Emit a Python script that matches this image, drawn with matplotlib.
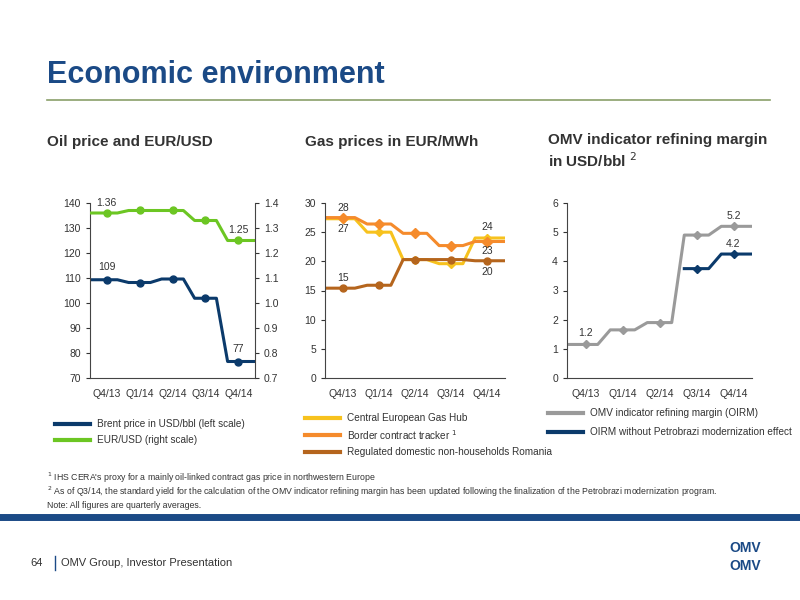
import numpy as np
import matplotlib.pyplot as plt
from matplotlib.lines import Line2D

quarters = ["Q4/13", "Q1/14", "Q2/14", "Q3/14", "Q4/14"]
brent = [109.3, 108.2, 109.6, 101.9, 76.6]
eurusd = [1.36, 1.37, 1.37, 1.33, 1.25]
cegh = [27.3, 25.0, 20.3, 19.6, 24.0]
border = [27.5, 26.4, 24.8, 22.7, 23.4]
regulated = [15.4, 15.9, 20.3, 20.3, 20.1]
oirm = [1.15, 1.65, 1.9, 4.9, 5.2]
oirm_wo = [np.nan, np.nan, np.nan, 3.75, 4.25]

NAVY = "#0b3a6b"
GREEN = "#6cc623"
YEL = "#f7c21e"
ORG = "#f58b2c"
BRN = "#b5651d"
GREY = "#9a9a9a"
TXT = "#333333"

plt.rcParams["font.family"] = ["Liberation Sans", "DejaVu Sans"]


def stepline(ax, vals, color, marker="o", ms=5):
    xs, ys = [], []
    for i, v in enumerate(vals):
        if np.isnan(v):
            continue
        xs += [i - 0.33, i + 0.33]
        ys += [v, v]
    if xs and xs[0] < -0.3:
        xs[0] = -0.5
    if xs[-1] > 4.3:
        xs[-1] = 4.5
    ax.plot(xs, ys, color=color, lw=2.2, solid_joinstyle="round")
    idx = [i for i, v in enumerate(vals) if not np.isnan(v)]
    ax.plot(idx, [vals[i] for i in idx], ls="none", marker=marker, ms=ms, color=color)


def style(ax):
    ax.set_xlim(-0.5, 4.5)
    ax.set_xticks(range(5))
    ax.set_xticklabels(quarters)
    ax.tick_params(labelsize=7.5, colors=TXT, length=3)
    for s in ["top", "right"]:
        ax.spines[s].set_visible(False)
    ax.spines["left"].set_color("#444")
    ax.spines["bottom"].set_color("#444")
    ax.tick_params(axis="x", length=0, pad=8)


fig = plt.figure(figsize=(8, 6), dpi=100)
fig.patch.set_facecolor("white")

def F(x, y):
    return x / 800, 1 - y / 600

fig.text(*F(47, 75), "Economic environment", fontsize=22, fontweight="bold", color="#1b4a86", va="center")
fig.add_artist(Line2D([47 / 800, 770 / 800], [1 - 100 / 600] * 2, color="#8aa06a", lw=1.2))
fig.add_artist(Line2D([0, 1], [1 - 517 / 600] * 2, color="#1b4a86", lw=5))

fig.text(*F(47, 142), "Oil price and EUR/USD", fontsize=11, fontweight="bold", color=TXT, va="center")
fig.text(*F(305, 142), "Gas prices in EUR/MWh", fontsize=11, fontweight="bold", color=TXT, va="center")
fig.text(*F(548, 133), "OMV indicator refining margin\nin USD/bbl $^{2}$", fontsize=11,
         fontweight="bold", color=TXT, va="top", linespacing=1.3)

# Chart 1
ax1 = fig.add_axes([90 / 800, 1 - 378 / 600, 165 / 800, 175 / 600])
stepline(ax1, brent, NAVY)
ax1.set_ylim(70, 140)
ax1.set_yticks(range(70, 141, 10))
style(ax1)
ax1b = ax1.twinx()
stepline(ax1b, eurusd, GREEN)
ax1b.set_ylim(0.7, 1.4)
ax1b.set_yticks(np.arange(0.7, 1.41, 0.1))
ax1b.yaxis.set_major_formatter(plt.FormatStrFormatter("%.1f"))
ax1b.tick_params(labelsize=7.5, colors=TXT, length=3)
for s in ["top", "left", "bottom"]:
    ax1b.spines[s].set_visible(False)
ax1b.spines["right"].set_color("#444")
ax1.text(0, brent[0] + 3, "109", fontsize=7.5, color=TXT, ha="center", va="bottom")
ax1.text(4, brent[4] + 3, "77", fontsize=7.5, color=TXT, ha="center", va="bottom")
ax1b.text(0, eurusd[0] + 0.02, "1.36", fontsize=7.5, color=TXT, ha="center", va="bottom")
ax1b.text(4, eurusd[4] + 0.02, "1.25", fontsize=7.5, color=TXT, ha="center", va="bottom")

# Chart 2
ax2 = fig.add_axes([325 / 800, 1 - 378 / 600, 180 / 800, 175 / 600])
stepline(ax2, cegh, YEL, marker="D", ms=4.5)
stepline(ax2, border, ORG, marker="D", ms=5)
stepline(ax2, regulated, BRN)
ax2.set_ylim(0, 30)
ax2.set_yticks(range(0, 31, 5))
style(ax2)
for x, y, t in [(0, 29.2, "28"), (0, 25.5, "27"), (0, 17.2, "15"),
                (4, 25.8, "24"), (4, 21.7, "23"), (4, 18.2, "20")]:
    ax2.text(x, y, t, fontsize=7.5, color=TXT, ha="center", va="center")

# Chart 3
ax3 = fig.add_axes([567 / 800, 1 - 378 / 600, 185 / 800, 175 / 600])
stepline(ax3, oirm, GREY, marker="D", ms=4.5)
stepline(ax3, oirm_wo, NAVY, marker="D", ms=4.5)
ax3.set_ylim(0, 6)
ax3.set_yticks(range(0, 7))
style(ax3)
for x, y, t in [(0, 1.55, "1.2"), (4, 5.55, "5.2"), (4, 4.6, "4.2")]:
    ax3.text(x, y, t, fontsize=7.5, color=TXT, ha="center", va="center")

# Legends
def leg(x, y, color, label):
    fig.add_artist(Line2D([x / 800, (x + 35) / 800], [1 - y / 600] * 2, color=color, lw=3))
    fig.text((x + 42) / 800, 1 - y / 600, label, fontsize=7.2, color=TXT, va="center")

leg(55, 424, NAVY, "Brent price in USD/bbl (left scale)")
leg(55, 440, GREEN, "EUR/USD (right scale)")
leg(305, 418, YEL, "Central European Gas Hub")
leg(305, 435, ORG, "Border contract tracker $^{1}$")
leg(305, 452, BRN, "Regulated domestic non-households Romania")
leg(548, 413, GREY, "OMV indicator refining margin (OIRM)")
leg(548, 432, NAVY, "OIRM without Petrobrazi modernization effect")

fn = ["$^{1}$ IHS CERA's proxy for a mainly oil-linked contract gas price in northwestern Europe",
      "$^{2}$ As of Q3/14, the standard yield for the calculation of the OMV indicator refining margin has been updated following the finalization of the Petrobrazi modernization program.",
      "Note: All figures are quarterly averages."]
for i, t in enumerate(fn):
    fig.text(47 / 800, 1 - (478 + i * 13.5) / 600, t, fontsize=6.3, color=TXT, va="center")

fig.text(*F(30, 563), "64", fontsize=8, color=TXT, va="center")
fig.add_artist(Line2D([55 / 800] * 2, [1 - 556 / 600, 1 - 570 / 600], color="#1b4a86", lw=1))
fig.text(*F(61, 563), "OMV Group, Investor Presentation", fontsize=8, color=TXT, va="center")
fig.text(*F(745, 548), "OMV", fontsize=10, fontweight="bold", color="#1b4a86", ha="center", va="center")
fig.text(*F(745, 566), "OMV", fontsize=10, fontweight="bold", color="#1b4a86", ha="center", va="center")

fig.savefig("out.png", dpi=100, facecolor="white")
